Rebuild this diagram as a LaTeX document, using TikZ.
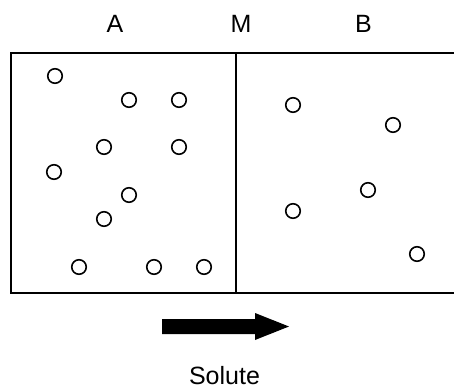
\documentclass[tikz,border=0pt]{standalone}
\usepackage{fontspec}
\setmainfont{Liberation Sans}
\begin{document}
\begin{tikzpicture}[x=1pt,y=1pt,
  wall/.style={line width=1.8pt},
  particle/.style={circle,draw,line width=1.6pt,inner sep=0pt,minimum size=14.5pt},
  tag/.style={font=\fontsize{25}{25}\selectfont,anchor=base,inner sep=0pt}]
  \useasboundingbox (0,0) rectangle (454,389);
  \clip (0,0) rectangle (454,389);
  % vessel split by the membrane
  \draw[wall] (460,336) -- (11,336) -- (11,96) -- (460,96);
  \draw[wall] (236,336) coordinate (mtop) -- (236,96) coordinate (mbot);
  % compartment labels
  \node[tag] (la) at (115,356) {A};
  \node[tag] (lm) at (241,356) {M};
  \node[tag] (lb) at (363.5,356) {B};
  % solute particles in A
  \foreach \x/\y [count=\i] in {55/76,129/100,179/100,104/147,179/147,54/172,129/195,104/219,79/267,154/267,204/267}
    \node[particle] (pa\i) at (\x,389-\y) {};
  % solute particles in B
  \foreach \x/\y [count=\i] in {293/105,393/125,368/190,293/211,417/254}
    \node[particle] (pb\i) at (\x,389-\y) {};
  % direction of net flux
  \fill (162,55) -- (255,55) -- (255,49) -- (289,62.5) -- (255,76) -- (255,70) -- (162,70) -- cycle;
  \node[tag] (ls) at (224.5,4.5) {Solute};
\end{tikzpicture}
\end{document}
